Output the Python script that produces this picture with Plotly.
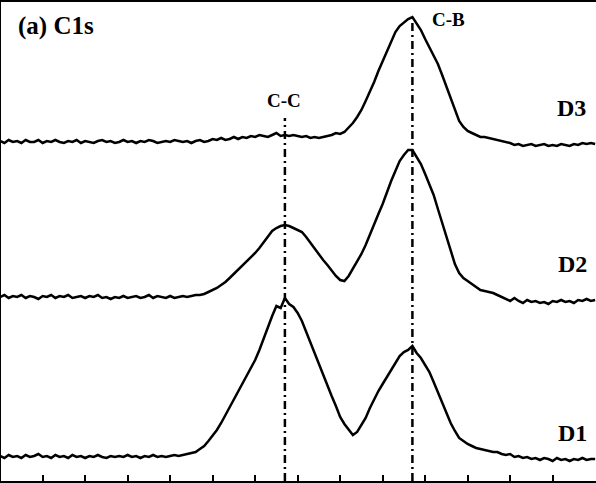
import plotly.graph_objects as go

# Binding energy grid (eV), 0.1 eV step, high -> low
binding_energy = [
    292.0, 291.9, 291.8, 291.7, 291.6, 291.5, 291.4, 291.3, 291.2, 291.1,
    291.0, 290.9, 290.8, 290.7, 290.6, 290.5, 290.4, 290.3, 290.2, 290.1,
    290.0, 289.9, 289.8, 289.7, 289.6, 289.5, 289.4, 289.3, 289.2, 289.1,
    289.0, 288.9, 288.8, 288.7, 288.6, 288.5, 288.4, 288.3, 288.2, 288.1,
    288.0, 287.9, 287.8, 287.7, 287.6, 287.5, 287.4, 287.3, 287.2, 287.1,
    287.0, 286.9, 286.8, 286.7, 286.6, 286.5, 286.4, 286.3, 286.2, 286.1,
    286.0, 285.9, 285.8, 285.7, 285.6, 285.5, 285.4, 285.3, 285.2, 285.1,
    285.0, 284.9, 284.8, 284.7, 284.6, 284.5, 284.4, 284.3, 284.2, 284.1,
    284.0, 283.9, 283.8, 283.7, 283.6, 283.5, 283.4, 283.3, 283.2, 283.1,
    283.0, 282.9, 282.8, 282.7, 282.6, 282.5, 282.4, 282.3, 282.2, 282.1,
    282.0, 281.9, 281.8, 281.7, 281.6, 281.5, 281.4, 281.3, 281.2, 281.1,
    281.0, 280.9, 280.8, 280.7, 280.6, 280.5, 280.4, 280.3, 280.2, 280.1,
    280.0, 279.9, 279.8, 279.7, 279.6, 279.5, 279.4, 279.3, 279.2, 279.1,
    279.0, 278.9, 278.8, 278.7, 278.6, 278.5, 278.4, 278.3, 278.2, 278.1,
    278.0,
]

# Intensities (a.u., stacked with offsets as in the figure)
intensity_D3 = [
    342, 340, 343, 341, 342, 340, 343, 341, 341, 343,
    340, 342, 341, 343, 341, 340, 342, 341, 343, 340,
    342, 341, 340, 342, 343, 341, 342, 340, 341, 343,
    341, 342, 340, 342, 341, 343, 342, 340, 341, 342,
    341, 343, 342, 341, 342, 340, 342, 343, 341, 342,
    344, 343, 345, 343, 344, 346, 344, 346, 345, 347,
    346, 348, 347, 346, 348, 350, 347, 348, 347, 348,
    347, 346, 347, 345, 346, 345, 346, 347, 348, 350,
    349, 351, 355, 360, 366, 373, 382, 391, 401, 412,
    422, 432, 442, 451, 457, 461, 464, 466, 460, 453,
    444, 436, 428, 419, 408, 397, 386, 374, 362, 356,
    352, 350, 348, 346, 346, 345, 344, 343, 342, 341,
    340, 338, 339, 337, 338, 339, 337, 338, 339, 337,
    338, 337, 339, 338, 337, 339, 338, 340, 339, 340,
    339,
]

intensity_D2 = [
    186, 188, 185, 187, 186, 188, 185, 187, 186, 184,
    187, 186, 188, 185, 187, 186, 188, 185, 186, 187,
    185, 187, 186, 188, 185, 186, 184, 186, 185, 187,
    185, 186, 187, 185, 186, 188, 185, 187, 186, 185,
    187, 185, 186, 187, 186, 187, 188, 188, 189, 191,
    193, 195, 198, 201, 205, 209, 214, 217, 221, 225,
    230, 235, 241, 247, 252, 255, 257, 258, 257, 255,
    253, 251, 246, 240, 234, 229, 223, 218, 212, 207,
    203, 202, 207, 214, 221, 229, 238, 249, 259, 269,
    279, 291, 302, 312, 322, 328, 333, 333, 326, 319,
    309, 299, 288, 274, 260, 245, 231, 219, 210, 205,
    202, 199, 196, 193, 192, 191, 190, 188, 186, 184,
    182, 185, 182, 180, 183, 181, 182, 180, 181, 179,
    182, 181, 183, 181, 182, 180, 183, 182, 184, 182,
    183,
]

intensity_D1 = [
    27, 25, 28, 26, 27, 25, 28, 26, 27, 29,
    26, 27, 25, 28, 26, 27, 25, 28, 26, 27,
    25, 27, 26, 28, 26, 25, 27, 26, 27, 26,
    28, 26, 27, 25, 27, 26, 28, 26, 27, 26,
    27, 28, 27, 28, 29, 30, 31, 34, 37, 42,
    47, 53, 60, 68, 75, 83, 91, 99, 107, 115,
    123, 133, 145, 155, 167, 177, 175, 185, 179, 176,
    170, 162, 151, 140, 129, 119, 108, 97, 87, 77,
    66, 59, 53, 48, 51, 58, 65, 75, 84, 92,
    99, 106, 113, 119, 127, 131, 133, 137, 130, 125,
    118, 111, 101, 91, 80, 70, 60, 52, 45, 42,
    39, 37, 35, 34, 33, 32, 31, 31, 29, 28,
    29, 26, 27, 25, 26, 24, 25, 23, 25, 24,
    22, 25, 23, 24, 22, 24, 23, 25, 23, 24,
    24,
]

series_names = ["D1", "D2", "D3"]
peak_names = ["C-C", "C-B"]
peak_positions = [285.3, 282.3]
tick_values = [291, 290, 289, 288, 287, 286, 285, 284, 283, 282, 281, 280, 279, 278]

W, H = 596, 483
ML, MR, MT, MB = 1, 0, 2, 2
XR = [291.98, 277.98]
YR = [2, 481]

fig = go.Figure()
for name, vals in zip(series_names, [intensity_D1, intensity_D2, intensity_D3]):
    fig.add_trace(go.Scatter(
        x=binding_energy, y=vals, mode="lines", name=name,
        line=dict(color="black", width=2.5), showlegend=False,
    ))

# Dash-dot reference lines at peak positions
line_tops = [365, 468]
for pos, top in zip(peak_positions, line_tops):
    fig.add_shape(type="line", xref="x", yref="y", x0=pos, x1=pos, y0=YR[0], y1=top,
                  line=dict(color="black", width=2.5, dash="8px,4px,2px,4px"))

font_b = "Liberation Serif"


def px2paper(px, py):
    return (px - ML) / (W - ML - MR), (H - MB - py) / (H - MT - MB)


texts = [
    ("(a) C1s", 16, 26, 25, "left"),
    (peak_names[0], 284, 100, 19, "center"),
    (peak_names[1], 448, 19, 19, "center"),
    ("D3", 571, 108, 24, "center"),
    ("D2", 572, 264, 24, "center"),
    ("D1", 572, 433, 24, "center"),
]
for t, px, py, sz, anc in texts:
    xp, yp = px2paper(px, py)
    fig.add_annotation(text="<b>%s</b>" % t, x=xp, y=yp, xref="paper", yref="paper",
                       xanchor=anc, yanchor="middle", showarrow=False,
                       font=dict(family=font_b, size=sz, color="black"))

fig.update_layout(
    width=W, height=H,
    margin=dict(l=ML, r=MR, t=MT, b=MB, pad=0),
    paper_bgcolor="white", plot_bgcolor="white",
    xaxis=dict(range=XR, showgrid=False, zeroline=False, showline=True, linecolor="black",
               linewidth=2.5, mirror=True, ticks="inside", ticklen=6, tickwidth=1.5,
               tickcolor="black", tickvals=tick_values, showticklabels=False),
    yaxis=dict(range=YR, showgrid=False, zeroline=False, showline=True, linecolor="black",
               linewidth=2, mirror=False, ticks="", showticklabels=False),
)

fig.write_html("out.html", config={"displayModeBar": False},
               post_script="document.body.style.margin='0';document.body.style.overflow='hidden';")
